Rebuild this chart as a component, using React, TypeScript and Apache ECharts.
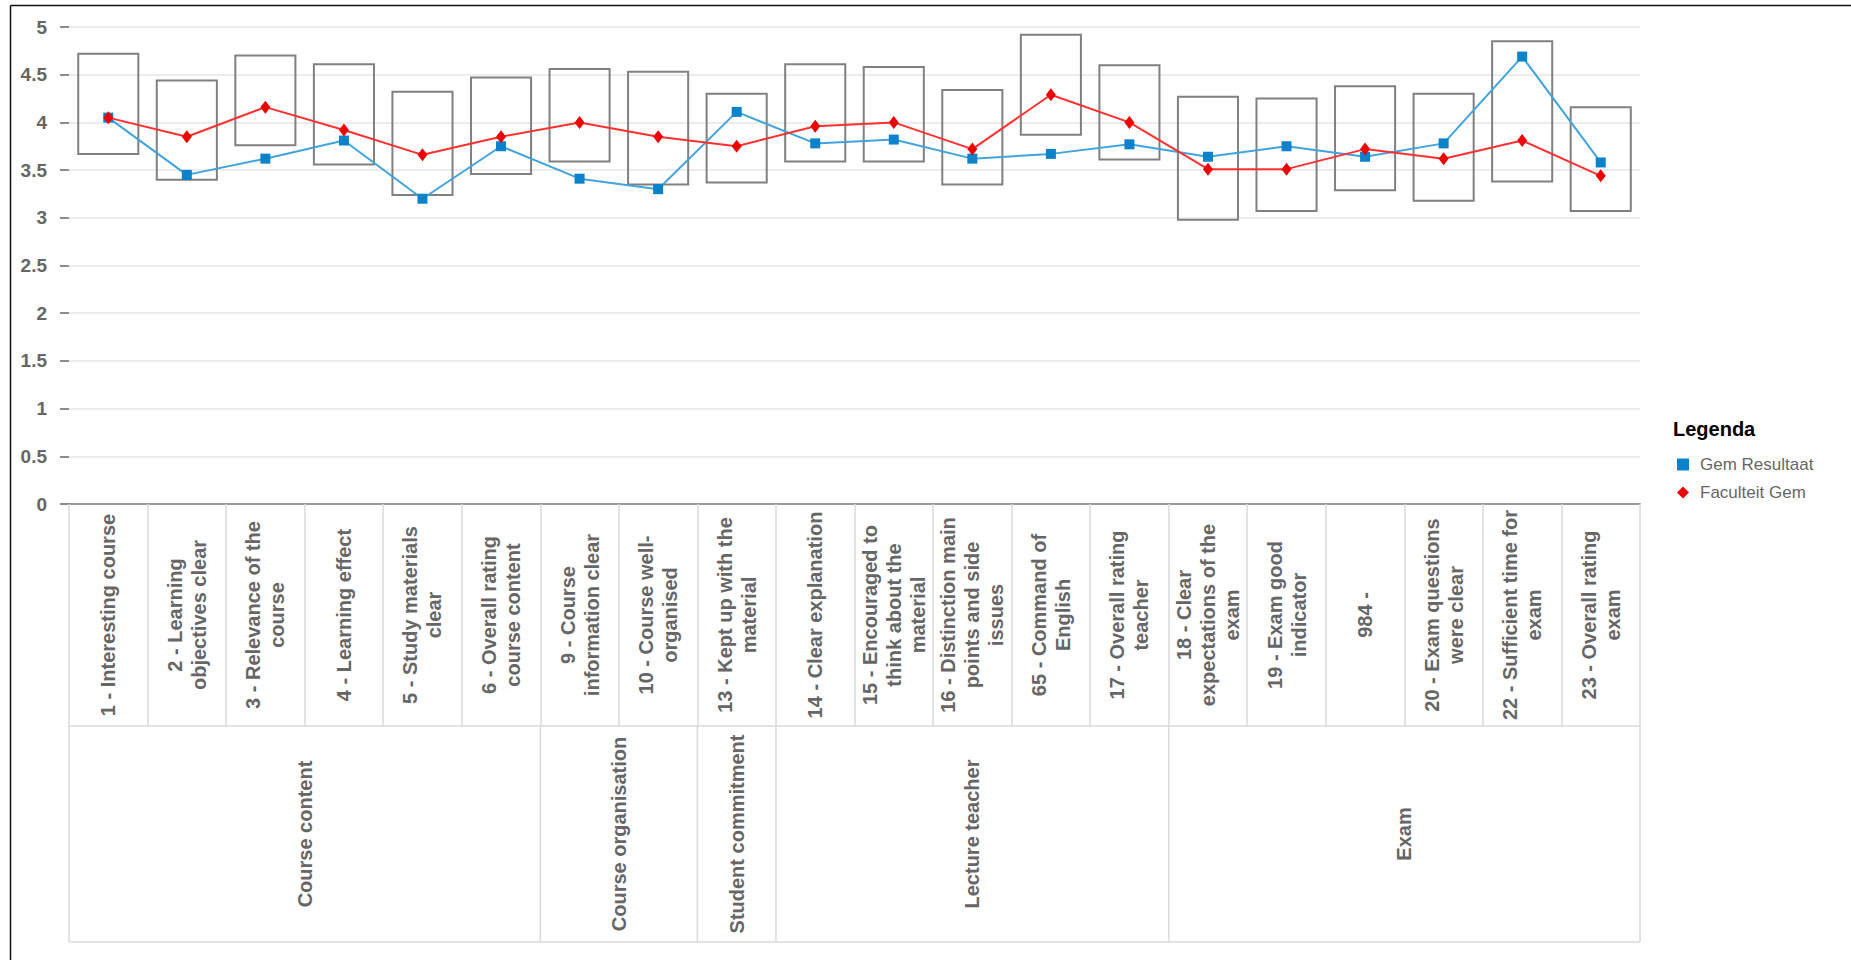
import React, { useEffect, useRef } from "react";
import * as echarts from "echarts";

const categories: string[] = [
  "1 - Interesting course",
  "2 - Learning\nobjectives clear",
  "3 - Relevance of the\ncourse",
  "4 - Learning effect",
  "5 - Study materials\nclear",
  "6 - Overall rating\ncourse content",
  "9 - Course\ninformation clear",
  "10 - Course well-\norganised",
  "13 - Kept up with the\nmaterial",
  "14 - Clear explanation",
  "15 - Encouraged to\nthink about the\nmaterial",
  "16 - Distinction main\npoints and side\nissues",
  "65 - Command of\nEnglish",
  "17 - Overall rating\nteacher",
  "18 - Clear\nexpectations of the\nexam",
  "19 - Exam good\nindicator",
  "984 -",
  "20 - Exam questions\nwere clear",
  "22 - Sufficient time for\nexam",
  "23 - Overall rating\nexam",
];

const gemResultaat: number[] = [4.05, 3.45, 3.62, 3.81, 3.2, 3.75, 3.41, 3.3, 4.11, 3.78, 3.82, 3.62, 3.67, 3.77, 3.64, 3.75, 3.64, 3.78, 4.69, 3.58];
const faculteitGem: number[] = [4.05, 3.85, 4.16, 3.92, 3.66, 3.85, 4.0, 3.85, 3.75, 3.96, 4.0, 3.72, 4.29, 4.0, 3.51, 3.51, 3.72, 3.62, 3.81, 3.44];
const rangeHigh: number[] = [4.72, 4.44, 4.7, 4.61, 4.32, 4.47, 4.56, 4.53, 4.3, 4.61, 4.58, 4.34, 4.92, 4.6, 4.27, 4.25, 4.38, 4.3, 4.85, 4.16];
const rangeLow: number[] = [3.67, 3.4, 3.76, 3.56, 3.24, 3.46, 3.59, 3.35, 3.37, 3.59, 3.59, 3.35, 3.87, 3.61, 2.98, 3.07, 3.29, 3.18, 3.38, 3.07];

const groupNames: string[] = ["Course content", "Course organisation", "Student commitment", "Lecture teacher", "Exam"];
const groupSizes: number[] = [6, 2, 1, 5, 6];

const FONT = "'Liberation Sans', Arial, sans-serif";
const TABLE_LINE = "#dadada";
const LABEL_COLOR = "#666";
const ROW1_H = 222;
const ROW2_H = 216;

export default function App() {
  const ref = useRef<HTMLDivElement>(null);

  useEffect(() => {
    if (!ref.current) return;
    const chart = echarts.init(ref.current, null, { renderer: "svg" });

    const boxData = categories.map((_, i) => [i, rangeLow[i], rangeHigh[i]]);

    chart.setOption({
      animation: false,
      backgroundColor: "#fff",
      textStyle: { fontFamily: FONT },
      title: {
        text: "Legenda",
        left: 1673,
        top: 419,
        padding: 0,
        textStyle: { fontSize: 20, fontWeight: "bold", color: "#000", fontFamily: FONT },
      },
      legend: {
        orient: "vertical",
        left: 1677,
        top: 456,
        padding: 0,
        itemWidth: 12,
        itemHeight: 12,
        itemGap: 11,
        textStyle: { fontSize: 17, color: "#666", fontFamily: FONT, padding: [0, 0, 0, 6] },
        data: [
          { name: "Gem Resultaat", icon: "rect" },
          { name: "Faculteit Gem", icon: "diamond" },
        ],
      },
      grid: { left: 69, right: 211, top: 27, bottom: 456, containLabel: false },
      xAxis: {
        type: "category",
        data: categories,
        boundaryGap: true,
        axisLine: { show: true, lineStyle: { color: "#999", width: 2 } },
        axisTick: { show: true, interval: 0, length: ROW1_H, lineStyle: { color: TABLE_LINE, width: 1.5 } },
        axisLabel: {
          interval: 0,
          rotate: 90,
          margin: ROW1_H / 2,
          align: "center",
          verticalAlign: "middle",
          fontSize: 20,
          fontWeight: "bold",
          color: LABEL_COLOR,
          lineHeight: 24,
          fontFamily: FONT,
        },
        splitLine: { show: false },
      },
      yAxis: {
        type: "value",
        min: 0,
        max: 5,
        interval: 0.5,
        axisLine: { show: false },
        axisTick: { show: true, length: 9, lineStyle: { color: "#666", width: 1.5 } },
        axisLabel: { margin: 22, fontSize: 19, fontWeight: "bold", color: LABEL_COLOR, fontFamily: FONT },
        splitLine: { show: true, lineStyle: { color: "#e6e6e6", width: 1.5 } },
      },
      series: [
        {
          name: "Range",
          type: "custom",
          z: 1,
          data: boxData,
          renderItem: (params: any, api: any) => {
            const idx = api.value(0);
            const top = api.coord([idx, api.value(2)]);
            const bot = api.coord([idx, api.value(1)]);
            const w = api.size([1, 0])[0] * 0.765;
            return {
              type: "rect",
              shape: { x: top[0] - w / 2, y: top[1], width: w, height: bot[1] - top[1] },
              style: { fill: "none", stroke: "#808080", lineWidth: 2 },
            };
          },
          silent: true,
        },
        {
          name: "Gem Resultaat",
          type: "line",
          z: 3,
          data: gemResultaat,
          symbol: "rect",
          symbolSize: 10,
          lineStyle: { color: "#42a4dc", width: 2 },
          itemStyle: { color: "#0b82c9" },
        },
        {
          name: "Faculteit Gem",
          type: "line",
          z: 4,
          data: faculteitGem,
          symbol: "diamond",
          symbolSize: [10, 13],
          lineStyle: { color: "#ff3030", width: 2 },
          itemStyle: { color: "#ee0000" },
        },
      ],
    });

    // Group row of the category table, positioned from the axis scale
    const px = (i: number) => chart.convertToPixel({ xAxisIndex: 0 }, i) as number;
    const band = px(1) - px(0);
    const leftEdge = px(0) - band / 2;
    const edge = (k: number) => leftEdge + k * band;
    const y0 = chart.convertToPixel({ yAxisIndex: 0 }, 0) as number;
    const r1 = y0 + ROW1_H;
    const r2 = r1 + ROW2_H;
    const total = categories.length;
    const lineStyle = { stroke: TABLE_LINE, lineWidth: 1.5 };

    const graphics: any[] = [
      { type: "line", shape: { x1: 10.5, y1: 5.5, x2: 1851, y2: 5.5 }, style: { stroke: "#111", lineWidth: 1.5 }, silent: true },
      { type: "line", shape: { x1: 10.5, y1: 5.5, x2: 10.5, y2: 960 }, style: { stroke: "#111", lineWidth: 1.5 }, silent: true },
      { type: "line", shape: { x1: edge(0), y1: r1, x2: edge(total), y2: r1 }, style: lineStyle, silent: true },
      { type: "line", shape: { x1: edge(0), y1: r2, x2: edge(total), y2: r2 }, style: lineStyle, silent: true },
    ];
    let start = 0;
    graphics.push({ type: "line", shape: { x1: edge(0), y1: r1, x2: edge(0), y2: r2 }, style: lineStyle, silent: true });
    groupNames.forEach((name, gi) => {
      const end = start + groupSizes[gi];
      graphics.push({ type: "line", shape: { x1: edge(end), y1: r1, x2: edge(end), y2: r2 }, style: lineStyle, silent: true });
      graphics.push({
        type: "text",
        x: (edge(start) + edge(end)) / 2,
        y: (r1 + r2) / 2,
        rotation: Math.PI / 2,
        silent: true,
        style: {
          text: name,
          align: "center",
          verticalAlign: "middle",
          fontSize: 20,
          fontWeight: "bold",
          fill: LABEL_COLOR,
          fontFamily: FONT,
        },
      });
      start = end;
    });

    chart.setOption({ graphic: graphics });

    return () => chart.dispose();
  }, []);

  return (
    <div
      ref={ref}
      style={{ position: "absolute", left: 0, top: 0, width: 1851, height: 960 }}
    />
  );
}
